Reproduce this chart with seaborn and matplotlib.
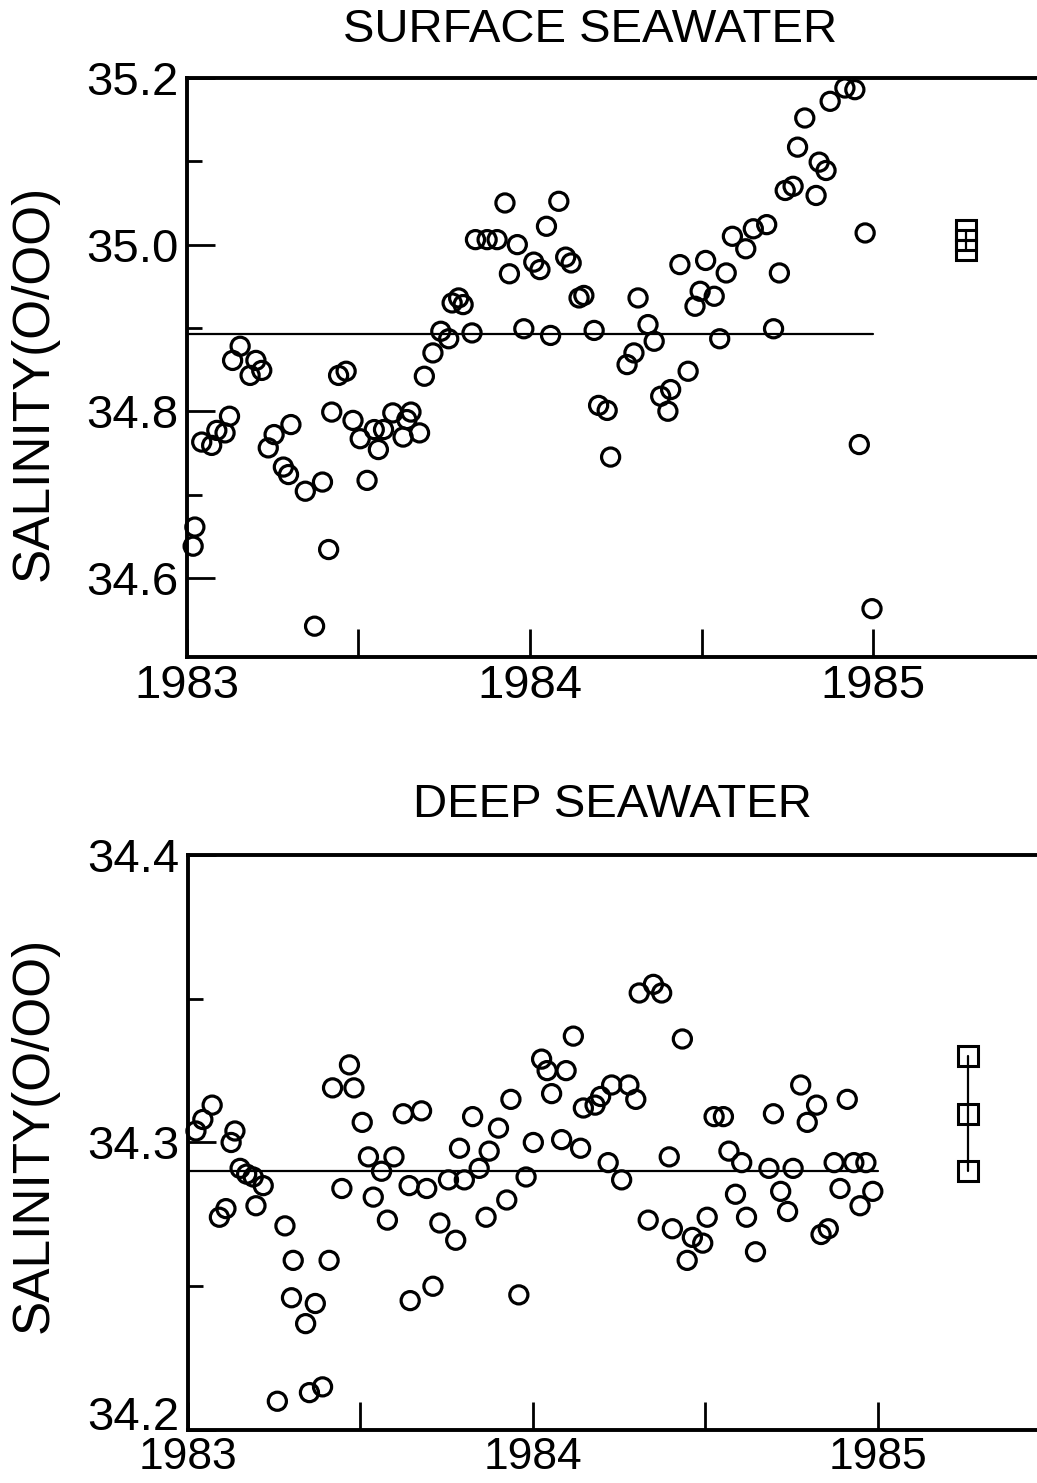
import numpy as np
import pandas as pd
import matplotlib
matplotlib.use("Agg")
import matplotlib.pyplot as plt
import seaborn as sns
from matplotlib.ticker import FixedLocator

# ---------------- data ----------------
surf_t = [1983.018, 1983.023, 1983.043, 1983.072, 1983.087, 1983.111, 1983.124, 1983.133,
          1983.155, 1983.184, 1983.201, 1983.218, 1983.237, 1983.254, 1983.281, 1983.296,
          1983.303, 1983.345, 1983.372, 1983.395, 1983.413, 1983.422, 1983.442, 1983.464,
          1983.484, 1983.505, 1983.525, 1983.546, 1983.558, 1983.573, 1983.600, 1983.630,
          1983.641, 1983.653, 1983.678, 1983.692, 1983.717, 1983.740, 1983.763, 1983.773,
          1983.792, 1983.805, 1983.831, 1983.841, 1983.875, 1983.904, 1983.927, 1983.940,
          1983.963, 1983.982, 1984.011, 1984.029, 1984.048, 1984.060, 1984.084, 1984.104,
          1984.120, 1984.143, 1984.157, 1984.187, 1984.200, 1984.225, 1984.235, 1984.283,
          1984.303, 1984.315, 1984.344, 1984.362, 1984.381, 1984.402, 1984.410, 1984.437,
          1984.461, 1984.481, 1984.496, 1984.512, 1984.537, 1984.553, 1984.572, 1984.590,
          1984.629, 1984.651, 1984.690, 1984.710, 1984.727, 1984.744, 1984.767, 1984.780,
          1984.801, 1984.834, 1984.843, 1984.863, 1984.875, 1984.918, 1984.947, 1984.960,
          1984.977, 1984.997]
surf_s = [34.638, 34.661, 34.763, 34.759, 34.777, 34.774, 34.794, 34.861,
          34.878, 34.843, 34.861, 34.849, 34.756, 34.772, 34.733, 34.724,
          34.784, 34.704, 34.542, 34.715, 34.634, 34.799, 34.843, 34.848,
          34.789, 34.767, 34.717, 34.778, 34.754, 34.778, 34.798, 34.769,
          34.790, 34.799, 34.774, 34.842, 34.870, 34.896, 34.887, 34.930,
          34.936, 34.928, 34.894, 35.006, 35.006, 35.006, 35.050, 34.965,
          35.000, 34.899, 34.979, 34.970, 35.022, 34.891, 35.052, 34.985,
          34.978, 34.936, 34.939, 34.897, 34.807, 34.801, 34.745, 34.856,
          34.870, 34.936, 34.904, 34.884, 34.818, 34.800, 34.826, 34.976,
          34.848, 34.926, 34.944, 34.981, 34.938, 34.887, 34.966, 35.010,
          34.995, 35.019, 35.024, 34.899, 34.966, 35.065, 35.070, 35.117,
          35.152, 35.059, 35.099, 35.089, 35.172, 35.188, 35.186, 34.760,
          35.014, 34.563]
surf_mean_t = [1983.0, 1985.0]
surf_mean_s = [34.893, 34.893]
surf_ref_t = [1985.27, 1985.27, 1985.27]
surf_ref_s = [35.018, 35.006, 34.994]

deep_t = [1983.023, 1983.043, 1983.070, 1983.136, 1983.125, 1983.151, 1983.170, 1983.189,
          1983.218, 1983.110, 1983.091, 1983.197, 1983.281, 1983.305, 1983.409, 1983.419,
          1983.468, 1983.481, 1983.505, 1983.523, 1983.561, 1983.597, 1983.446, 1983.537,
          1983.578, 1983.624, 1983.677, 1983.641, 1983.692, 1983.730, 1983.776, 1983.755,
          1983.801, 1983.787, 1983.825, 1983.844, 1983.873, 1983.900, 1983.936, 1983.864,
          1983.924, 1983.980, 1984.001, 1984.025, 1984.041, 1984.117, 1984.096, 1984.054,
          1984.083, 1984.138, 1984.146, 1984.180, 1984.196, 1984.228, 1984.278, 1984.298,
          1984.308, 1984.349, 1984.373, 1984.433, 1984.218, 1984.257, 1984.395, 1984.334,
          1984.404, 1984.462, 1984.492, 1984.447, 1984.505, 1984.525, 1984.552, 1984.568,
          1984.605, 1984.587, 1984.619, 1984.645, 1984.684, 1984.754, 1984.697, 1984.718,
          1984.738, 1984.776, 1984.822, 1984.795, 1984.835, 1984.856, 1984.873, 1984.930,
          1984.965, 1984.890, 1984.911, 1984.948, 1984.985, 1983.300, 1983.369, 1983.341,
          1983.259, 1983.352, 1983.390, 1983.644, 1983.710, 1983.959]
deep_s = [34.304, 34.308, 34.313, 34.304, 34.300, 34.291, 34.289, 34.288,
          34.285, 34.277, 34.274, 34.278, 34.271, 34.259, 34.259, 34.319,
          34.327, 34.319, 34.307, 34.295, 34.290, 34.295, 34.284, 34.281,
          34.273, 34.310, 34.311, 34.285, 34.284, 34.272, 34.266, 34.287,
          34.287, 34.298, 34.309, 34.291, 34.297, 34.305, 34.315, 34.274,
          34.280, 34.288, 34.300, 34.329, 34.325, 34.337, 34.325, 34.317,
          34.301, 34.298, 34.312, 34.313, 34.316, 34.320, 34.320, 34.315,
          34.352, 34.355, 34.352, 34.336, 34.293, 34.287, 34.295, 34.273,
          34.270, 34.267, 34.265, 34.259, 34.274, 34.309, 34.309, 34.297,
          34.293, 34.282, 34.274, 34.262, 34.291, 34.291, 34.310, 34.283,
          34.276, 34.320, 34.313, 34.307, 34.268, 34.270, 34.293, 34.293,
          34.293, 34.284, 34.315, 34.278, 34.283, 34.246, 34.244, 34.237,
          34.210, 34.213, 34.215, 34.245, 34.250, 34.247]
deep_mean_t = [1983.0, 1985.0]
deep_mean_s = [34.290, 34.290]
deep_ref_t = [1985.26, 1985.26, 1985.26]
deep_ref_s = [34.330, 34.310, 34.290]

titles = ["SURFACE SEAWATER", "DEEP SEAWATER"]
ylabel = "SALINITY(O/OO)"
year_ticks = [1983, 1983.5, 1984, 1984.5, 1985]
year_labels = ["1983", "", "1984", "", "1985"]

# ---------------- style ----------------
sns.set_theme(style="ticks")
plt.rcParams["font.family"] = ["Liberation Sans Narrow", "Liberation Sans", "DejaVu Sans"]
plt.rcParams["text.color"] = "black"
plt.rcParams["axes.labelcolor"] = "black"
plt.rcParams["xtick.color"] = "black"
plt.rcParams["ytick.color"] = "black"
FS = 34

fig = plt.figure(figsize=(10.37, 14.83), dpi=100)
ax1 = fig.add_axes([0.1803, 0.55698, 0.8197, 0.39042])
ax2 = fig.add_axes([0.1813, 0.03574, 0.8187, 0.38773])


def panel(ax, t, s, mt, ms, rt, rs, xlim, ylim, major_y, minor_y, ylabels, xpad, xfs):
    sns.scatterplot(x=t, y=s, ax=ax, marker="o", s=170, color="black",
                    linewidth=2.3, zorder=3, clip_on=False)
    coll = ax.collections[-1]
    coll.set_facecolor("none")
    coll.set_edgecolor("black")
    sns.lineplot(x=mt, y=ms, ax=ax, color="black", linewidth=1.6,
                 estimator=None, sort=False, zorder=2)
    sns.lineplot(x=rt, y=rs, ax=ax, color="black", linewidth=1.6,
                 estimator=None, sort=False, marker="s", markersize=14,
                 markerfacecolor="none", markeredgecolor="black",
                 markeredgewidth=2.2, zorder=3)
    ax.set_xlim(*xlim)
    ax.set_ylim(*ylim)
    ax.xaxis.set_major_locator(FixedLocator(year_ticks))
    ax.set_xticklabels(year_labels)
    ax.yaxis.set_major_locator(FixedLocator(major_y))
    ax.set_yticklabels(ylabels)
    ax.yaxis.set_minor_locator(FixedLocator(minor_y))
    ax.tick_params(axis="both", which="major", direction="in", length=20,
                   width=2, labelsize=FS, color="black", labelcolor="black")
    ax.tick_params(axis="y", which="major", pad=6)
    ax.tick_params(axis="x", which="major", pad=xpad, labelsize=xfs)
    ax.tick_params(axis="y", which="minor", direction="in", length=11, width=2)
    ax.tick_params(axis="x", which="minor", length=0)
    for side in ["top", "left", "bottom"]:
        ax.spines[side].set_visible(True)
        ax.spines[side].set_linewidth(2.8)
        ax.spines[side].set_color("black")
    ax.spines["right"].set_visible(False)
    ax.set_xlabel("")
    ax.set_ylabel("")
    ax.set_facecolor("white")


panel(ax1, surf_t, surf_s, surf_mean_t, surf_mean_s, surf_ref_t, surf_ref_s,
      (1983.0, 1985.478), (34.505, 35.2),
      [34.6, 34.8, 35.0, 35.2], [34.7, 34.9, 35.1],
      ["34.6", "34.8", "35.0", "35.2"], 5, FS)
panel(ax2, deep_t, deep_s, deep_mean_t, deep_mean_s, deep_ref_t, deep_ref_s,
      (1983.0, 1985.461), (34.2, 34.4),
      [34.2, 34.3, 34.4], [34.25, 34.35],
      ["34.2", "34.3", "34.4"], 5, 32)
# lowest label of the deep panel sits on the axis line (baseline aligned)
ax2.get_yticklabels()[0].set_verticalalignment("baseline")

fig.text(590 / 1037, 1 - 30 / 1483, titles[0], ha="center", va="center", fontsize=FS)
fig.text(612 / 1037, 1 - 805 / 1483, titles[1], ha="center", va="center", fontsize=FS)
fig.text(34 / 1037, 1 - 383 / 1483, ylabel, ha="center", va="center",
         rotation=90, fontsize=37)
fig.text(34 / 1037, 1 - 1135 / 1483, ylabel, ha="center", va="center",
         rotation=90, fontsize=37)

fig.savefig("out.png", dpi=100, facecolor="white")
